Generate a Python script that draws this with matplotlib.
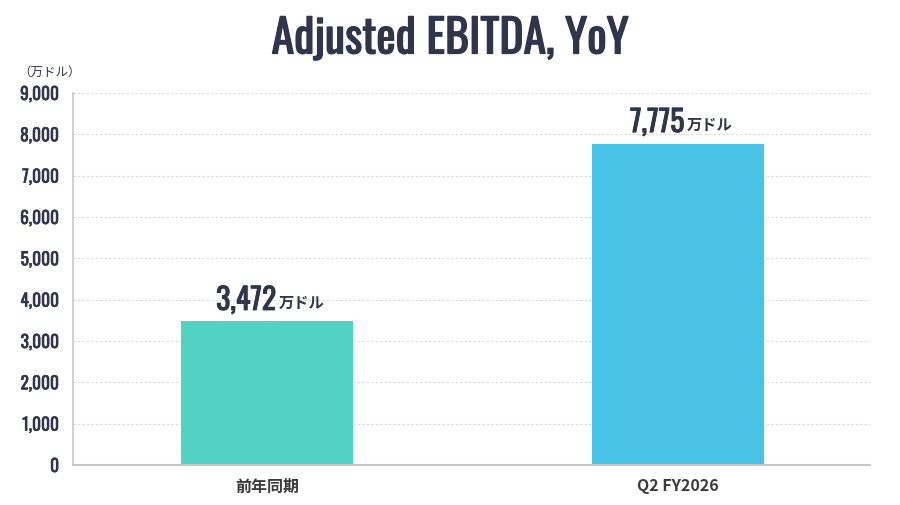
import matplotlib
matplotlib.use("Agg")
import matplotlib.pyplot as plt
import matplotlib.patheffects as pe
from matplotlib.ticker import FuncFormatter
from matplotlib import font_manager

categories = ["前年同期", "Q2 FY2026"]
values = [3472, 7775]
colors = ["#52d2c4", "#48c5e6"]
yticks = [0, 1000, 2000, 3000, 4000, 5000, 6000, 7000, 8000, 9000]

DARK = "#30364a"
CJK = ["Noto Sans CJK JP", "DejaVu Sans"]

installed = {f.name for f in font_manager.fontManager.ttflist}
NARROW = next((n for n in ["Oswald", "Barlow Condensed", "DejaVu Sans"] if n in installed),
              "DejaVu Sans")


def thick(w):
    # Oswald here has only the regular weight, so fake the heavier look
    return [pe.withStroke(linewidth=w, foreground=DARK)]


def main():
    fig = plt.figure(figsize=(9, 5.06), dpi=100)
    ax = fig.add_axes([73 / 900, 1 - 466 / 506, 797 / 900, 372 / 506])

    x = list(range(len(categories)))
    ax.bar(x, values, width=0.42, color=colors, zorder=2)

    ax.set_ylim(0, 9000)
    ax.set_xlim(-0.472, 1.467)
    ax.set_yticks(yticks)
    ax.yaxis.set_major_formatter(FuncFormatter(lambda v, p: f"{int(v):,}"))
    ax.set_xticks(x)
    ax.set_xticklabels(categories, fontfamily=CJK, fontsize=11.5,
                       fontweight="bold", color="#3a3a3a")
    for lab in ax.get_yticklabels():
        lab.set_fontfamily(NARROW)
        lab.set_fontsize(12.5)
        lab.set_color(DARK)
        lab.set_path_effects(thick(0.45))
    ax.tick_params(axis="both", length=0)
    ax.tick_params(axis="y", pad=10)
    ax.tick_params(axis="x", pad=9)

    ax.grid(axis="y", linestyle=(0, (2, 2)), color="#d8d8d8", linewidth=0.8, zorder=0)
    for s in ["top", "right"]:
        ax.spines[s].set_visible(False)
    ax.spines["left"].set_color("#c8c8c8")
    ax.spines["bottom"].set_color("#c8c8c8")
    ax.spines["left"].set_linewidth(1.2)
    ax.spines["bottom"].set_linewidth(1.5)

    # value labels: number + smaller unit
    for xi, v in zip(x, values):
        t = ax.annotate(f"{v:,}", (xi, v), xytext=(-15, 4), textcoords="offset points",
                        ha="center", va="bottom", fontsize=21.5, color=DARK,
                        family=NARROW, path_effects=thick(0.7))
        ax.annotate("万ドル", xy=(1, 0.2), xycoords=t, xytext=(1.5, 0),
                    textcoords="offset points", ha="left", va="bottom",
                    fontsize=11, fontweight="bold", color=DARK, family=CJK)

    fig.text(0.5, 1 - 40 / 506, "Adjusted EBITDA, YoY", ha="center", va="center",
             fontsize=33, color=DARK, family=NARROW, path_effects=thick(0.9))
    fig.text(18 / 900, 1 - 72 / 506, "（万ドル）", ha="left", va="center",
             fontsize=9, color=DARK, family=CJK)

    fig.savefig("out.png", dpi=100)


if __name__ == "__main__":
    main()
